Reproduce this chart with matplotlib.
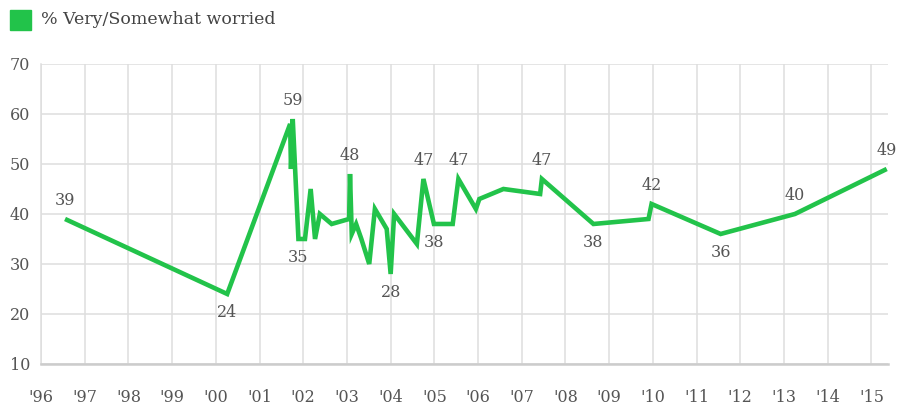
import matplotlib
matplotlib.use("Agg")
import matplotlib.pyplot as plt
from matplotlib.patches import Rectangle

# Dati (anno decimale, % preoccupati)
years = [1996.55, 2000.26, 2001.70, 2001.72, 2001.76, 2001.89, 2002.04, 2002.17,
         2002.27, 2002.38, 2002.65, 2003.05, 2003.07, 2003.11, 2003.21, 2003.33,
         2003.51, 2003.64, 2003.91, 2004.00, 2004.08, 2004.60, 2004.75, 2004.99,
         2005.42, 2005.55, 2005.95, 2006.03, 2006.58, 2007.42, 2007.46, 2008.64,
         2009.90, 2009.97, 2011.55, 2013.25, 2015.35]
values = [39, 24, 58, 49, 59, 35, 35, 45,
          35, 40, 38, 39, 48, 36, 38, 35,
          30, 41, 37, 28, 40, 34, 47, 38,
          38, 47, 41, 43, 45, 44, 47, 38,
          39, 42, 36, 40, 49]

# etichette: indice del punto, sopra (+1) o sotto (-1)
label_idx = [0, 1, 4, 5, 12, 19, 22, 23, 25, 30, 31, 33, 34, 35, 36]
label_side = [1, -1, 1, -1, 1, -1, 1, -1, 1, 1, -1, 1, -1, 1, 1]

tick_years = list(range(1996, 2016))
tick_labels = ["'%02d" % (y % 100) for y in tick_years]
y_ticks = [10, 20, 30, 40, 50, 60, 70]

green = '#22c34a'
text_col = '#555555'
serif = 'DejaVu Serif'

fig = plt.figure(figsize=(8.97, 4.07), dpi=100)
ax = fig.add_axes([0.0457, 0.1057, 0.9443, 0.7371])

ax.plot(years, values, color=green, linewidth=3.3, solid_joinstyle='miter',
        solid_capstyle='butt', zorder=3)

for i, side in zip(label_idx, label_side):
    ax.annotate(str(values[i]), (years[i], values[i]),
                xytext=(0, 13 * side), textcoords='offset points',
                ha='center', va='center', fontsize=11.5, color=text_col,
                family=serif, annotation_clip=False, zorder=4)

ax.set_xlim(1996, 2015.38)
ax.set_ylim(10, 70)
ax.set_xticks(tick_years)
ax.set_xticklabels(tick_labels)
ax.set_yticks(y_ticks)
ax.grid(True, color='#dedede', linewidth=1.1)
ax.set_axisbelow(True)
for s in ['top', 'right']:
    ax.spines[s].set_visible(False)
ax.spines['left'].set_color('#dedede')
ax.spines['left'].set_linewidth(1.1)
ax.spines['bottom'].set_color('#cccccc')
ax.spines['bottom'].set_linewidth(1.8)
ax.tick_params(length=0, labelsize=11.5, labelcolor=text_col, pad=8)
for lab in ax.get_xticklabels() + ax.get_yticklabels():
    lab.set_family(serif)
ax.tick_params(axis='x', pad=18)

# Legenda
fig.patches.append(Rectangle((10 / 897, 1 - 30 / 407), 21 / 897, 20 / 407,
                             transform=fig.transFigure, color=green))
fig.text(41 / 897, 1 - 19 / 407, '% Very/Somewhat worried', fontsize=12.5,
         color='#444444', family=serif, va='center', ha='left')

fig.savefig('out.png', dpi=100)
